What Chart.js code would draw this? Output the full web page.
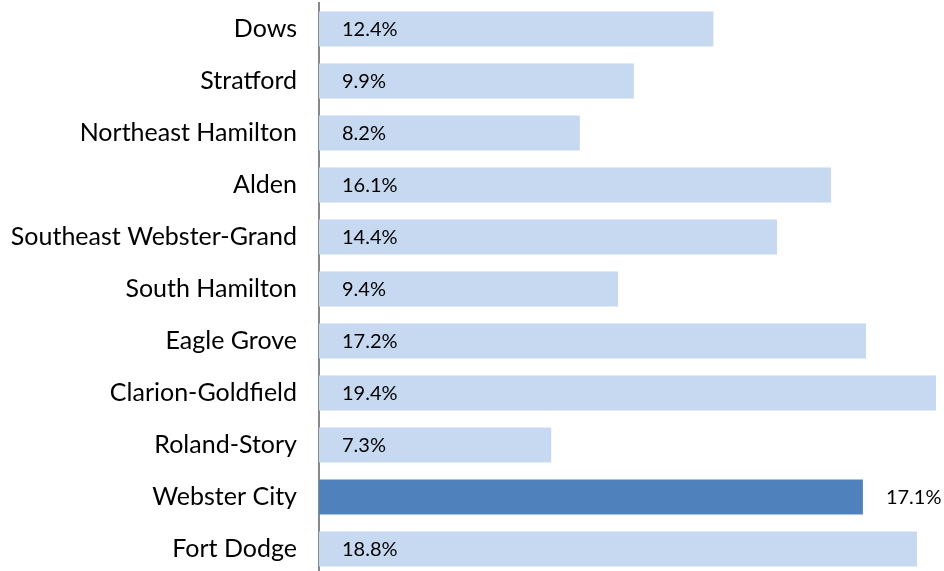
<!DOCTYPE html>
<html>
<head>
<meta charset="utf-8">
<script src="https://cdn.jsdelivr.net/npm/chart.js@4"></script>
<style>
  html, body { margin: 0; padding: 0; background: #fff; overflow: hidden; }
  #wrap { width: 944px; height: 571px; overflow: hidden; }
  canvas { display: block; }
</style>
</head>
<body>
<div id="wrap"><canvas id="BarChart" width="944" height="575"></canvas></div>
<script>
var districts = ["Dows", "Stratford", "Northeast Hamilton", "Alden", "Southeast Webster-Grand",
  "South Hamilton", "Eagle Grove", "Clarion-Goldfield", "Roland-Story", "Webster City", "Fort Dodge"];
var pctValues = [12.4, 9.9, 8.2, 16.1, 14.4, 9.4, 17.2, 19.4, 7.3, 17.1, 18.8];
var highlight = "Webster City";

var barColors = districts.map(function (d) {
  return d === highlight ? "#4F81BD" : "#C6D9F1";
});

// value labels: inside the bar start, except the highlighted bar (outside its end)
var valueLabels = {
  id: "valueLabels",
  afterDatasetsDraw: function (chart) {
    var ctx = chart.ctx;
    var meta = chart.getDatasetMeta(0);
    ctx.save();
    ctx.font = "20px Lato";
    ctx.fillStyle = "#000";
    ctx.textBaseline = "middle";
    ctx.textAlign = "left";
    meta.data.forEach(function (bar, i) {
      var txt = pctValues[i].toFixed(1) + "%";
      var x = districts[i] === highlight ? bar.x + 23 : chart.chartArea.left + 23;
      ctx.fillText(txt, x, bar.y + 1);
    });
    ctx.restore();
  }
};

new Chart("BarChart", {
  type: "bar",
  data: {
    labels: districts,
    datasets: [{
      data: pctValues,
      backgroundColor: barColors,
      borderWidth: 0,
      barPercentage: 0.674,
      categoryPercentage: 1
    }]
  },
  options: {
    indexAxis: "y",
    responsive: false,
    animation: false,
    layout: { autoPadding: false, padding: { top: 3, bottom: 0, left: 0, right: 0 } },
    plugins: {
      legend: { display: false },
      tooltip: { enabled: false }
    },
    scales: {
      x: {
        display: false,
        min: 0,
        max: 19.65
      },
      y: {
        afterFit: function (scale) {
          scale.width = 319;
          scale.paddingTop = 0;
          scale.paddingBottom = 0;
        },
        grid: { display: false, drawTicks: false },
        border: { display: true, color: "#888888", width: 2 },
        ticks: {
          padding: 22,
          color: "#000",
          font: { family: "Lato", size: 25 }
        }
      }
    }
  },
  plugins: [valueLabels]
});
</script>
</body>
</html>
